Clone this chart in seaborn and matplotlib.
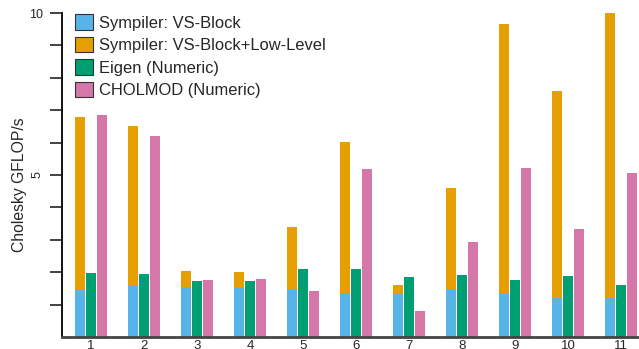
import pandas as pd
import matplotlib
matplotlib.use("Agg")
import matplotlib.pyplot as plt
from matplotlib.patches import Patch
import seaborn as sns

sns.set_theme(style="white")
plt.rcParams["font.family"] = ["Liberation Sans", "DejaVu Sans"]

matrices   = ["1", "2", "3", "4", "5", "6", "7", "8", "9", "10", "11"]
vs_block   = [1.45, 1.58, 1.53, 1.51, 1.47, 1.36, 1.33, 1.48, 1.33, 1.21, 1.21]
vs_low     = [6.80, 6.51, 2.04, 2.00, 3.40, 6.02, 1.60, 4.60, 9.66, 7.59, 10.0]
eigen      = [1.98, 1.94, 1.73, 1.73, 2.10, 2.10, 1.85, 1.91, 1.76, 1.88, 1.60]
cholmod    = [6.85, 6.20, 1.76, 1.79, 1.42, 5.19, 0.80, 2.93, 5.22, 3.33, 5.06]

labels = ["Sympiler: VS-Block", "Sympiler: VS-Block+Low-Level",
          "Eigen (Numeric)", "CHOLMOD (Numeric)"]
colors = ["#56B4E9", "#E69F00", "#009E73", "#D677A9"]

def frame(first):
    return pd.DataFrame({
        "matrix": matrices * 3,
        "series": ["sympiler"] * 11 + ["eigen"] * 11 + ["cholmod"] * 11,
        "gflops": first + eigen + cholmod,
    })

fig = plt.figure(figsize=(6.39, 3.49), dpi=100)
ax = fig.add_axes([62 / 639, 12 / 349, 1 - 62 / 639, (337 - 13) / 349])

# total (low-level) first, then VS-Block drawn over the bottom part
sns.barplot(data=frame(vs_low), x="matrix", y="gflops", hue="series",
            order=matrices, hue_order=["sympiler", "eigen", "cholmod"],
            palette=[colors[1], colors[2], colors[3]], width=0.62, gap=0.08,
            saturation=1, linewidth=0, legend=False, ax=ax)
sns.barplot(data=frame(vs_block), x="matrix", y="gflops", hue="series",
            order=matrices, hue_order=["sympiler", "eigen", "cholmod"],
            palette=[colors[0], colors[2], colors[3]], width=0.62, gap=0.08,
            saturation=1, linewidth=0, legend=False, ax=ax)

ax.set_xlim(-0.547, 10.34)
ax.set_ylim(0, 10)
ax.set_yticks(range(1, 11))
ax.set_yticklabels(["" if v not in (5, 10) else str(v) for v in range(1, 11)], fontsize=9)
for t in ax.get_yticklabels():
    if t.get_text() == "5":
        t.set_rotation(90)
        t.set_va("center")
ax.tick_params(axis="y", length=8.5, width=1.2, color="#222222", pad=5, left=True)
ax.tick_params(axis="x", length=0, pad=2, labelsize=9.5)
ax.set_xlabel("")
ax.set_ylabel("")
fig.text(19.5 / 639, 1 - 184.5 / 349, "Cholesky GFLOP/s", rotation=90,
         ha="center", va="center", fontsize=11.3)

for s in ["top", "right"]:
    ax.spines[s].set_visible(False)
ax.spines["left"].set_color("#111111")
ax.spines["left"].set_linewidth(1.4)
ax.spines["bottom"].set_color("#444444")
ax.spines["bottom"].set_linewidth(2)

handles = [Patch(facecolor=c, edgecolor="#333333", linewidth=0.8) for c in colors]
fig.legend(handles, labels, loc="upper left", bbox_to_anchor=(75 / 639, 1 - 14 / 349),
           frameon=False, fontsize=11.9, handlelength=1.1, handleheight=1.1,
           handletextpad=0.35, labelspacing=0.36, borderpad=0, borderaxespad=0)

fig.savefig("out.png", dpi=100)
